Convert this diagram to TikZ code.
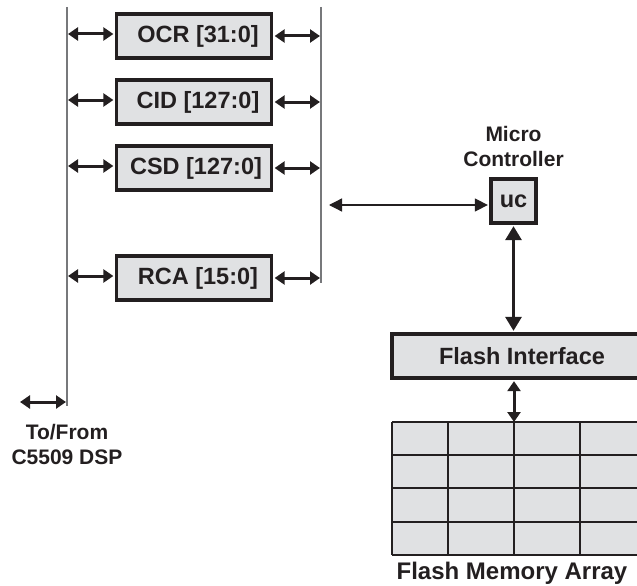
\documentclass[tikz,border=0pt]{standalone}
\usepackage{fontspec}
\setmainfont{Liberation Sans}
\usepackage{tikz}
\usetikzlibrary{arrows.meta,calc,positioning}
\definecolor{PanelGray}{HTML}{E0E1E3}
\definecolor{InkBlack}{HTML}{231F20}
\definecolor{BusGray}{HTML}{77787B}

\begin{document}
\begin{tikzpicture}[x=1pt,y=-1pt,
    reg/.style={draw=InkBlack,line width=3.3pt,fill=PanelGray,minimum width=155pt,
      minimum height=44pt,inner sep=0pt,font=\fontsize{23.5}{26}\selectfont\bfseries,text=InkBlack},
    lbl/.style={align=center,font=\fontsize{21}{25}\selectfont\bfseries,text=InkBlack},
    bus/.style={draw=BusGray,line width=1.1pt},
    link/.style={draw=InkBlack,line width=3pt,{Triangle[length=10pt,width=13pt]}-{Triangle[length=10pt,width=13pt]}},
    biglink/.style={draw=InkBlack,line width=3pt,{Triangle[length=14pt,width=16pt]}-{Triangle[length=14pt,width=16pt]}},
    thinlink/.style={draw=InkBlack,line width=1.3pt,{Triangle[length=13pt,width=13pt]}-{Triangle[length=13pt,width=13pt]}}]
      \useasboundingbox (0,0) rectangle (637,586);
      % registers between the two buses
      \node[reg] (ocr) at (194,36) {\hspace*{8pt}OCR [31:0]};
      \node[reg] (cid) at (194,102) {\hspace*{8pt}CID [127:0]};
      \node[reg] (csd) at (194,168) {\hspace*{4pt}CSD [127:0]};
      \node[reg] (rca) at (194,278) {\hspace*{8pt}RCA [15:0]};
      \coordinate (lbtop) at (67,7);
      \coordinate (lbbot) at (67,406);
      \coordinate (rbtop) at (321,7);
      \coordinate (rbbot) at (321,283);
      \draw[bus] (lbtop) -- (lbbot);
      \draw[bus] (rbtop) -- (rbbot);
      \foreach \r in {ocr,cid,csd,rca} {
        \draw[link] ($(\r.west -| lbtop)+(1,-2)$) -- ($(\r.west)+(-1.5,-2)$);
        \draw[link] ($(\r.east)+(1.5,0)$) -- ($(\r.east -| rbtop)+(-1,0)$);
      }
      % controller and flash side
      \node[reg,minimum width=45pt,minimum height=44pt] (uc) at (513.5,201) {uc};
      \node[lbl,above=7pt of uc] (ucname) {Micro\\Controller};
      \node[reg,minimum width=260pt,minimum height=44pt] (fi) at (522,356) {Flash Interface};
      \coordinate (ucbus) at (329,205);
      \draw[thinlink] (ucbus) -- ($(ucbus -| uc.west)+(-1.5,0)$);
      \draw[biglink] ($(uc.south)+(0,1.5)$) -- ($(uc.south |- fi.north)+(0,-1.5)$);
      % memory array
      \fill[PanelGray] (392,422) rectangle (660,555);
      \foreach \y in {422,455,488,522,555}
        \draw[InkBlack,line width=1.5pt] (392,\y) -- (660,\y);
      \foreach \x in {392,448,514,580}
        \draw[InkBlack,line width=1.5pt] (\x,422) -- (\x,555);
      \coordinate (arraytop) at (514,422);
      \draw[link] ($(arraytop |- fi.south)+(0,1.5)$) -- (arraytop);
      \node[lbl,font=\fontsize{24}{26}\selectfont\bfseries] (arrayname) at (512,573) {Flash Memory Array};
      % DSP side
      \coordinate (dspend) at (20,402);
      \draw[link] (dspend) -- ($(dspend -| lbbot)+(-1,0)$);
      \node[lbl] (dspname) at (67,444) {To/From\\C5509 DSP};
    \end{tikzpicture}
\end{document}
